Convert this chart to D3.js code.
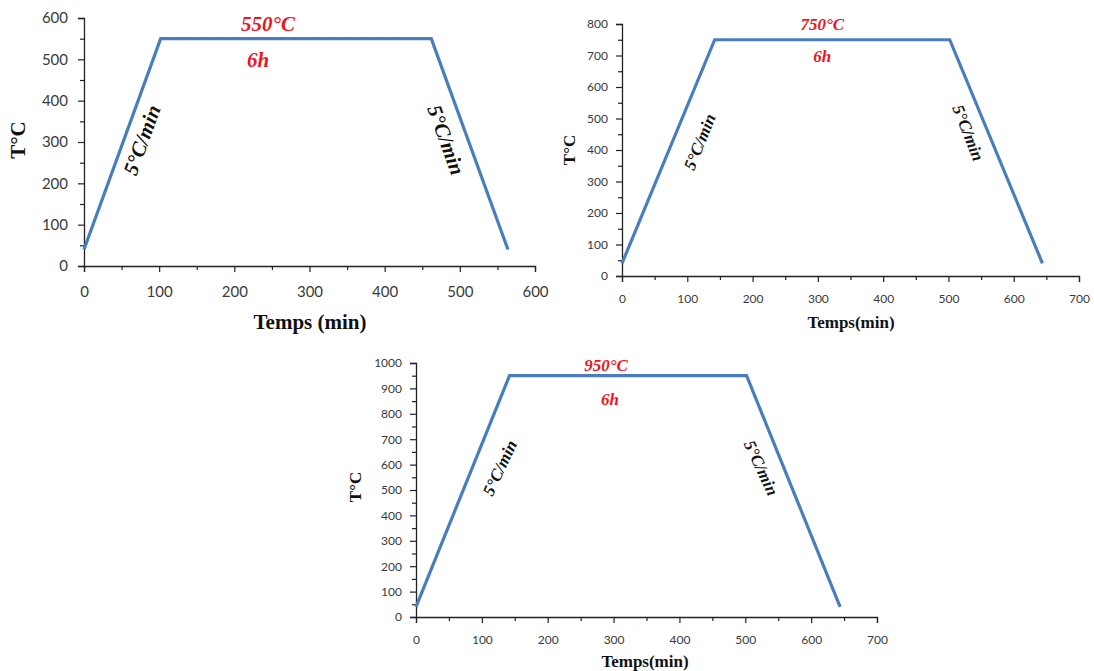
<!DOCTYPE html>
<html><head><meta charset="utf-8">
<script src="https://cdn.jsdelivr.net/npm/d3@7"></script>
<style>body{margin:0;background:#fff;} svg{display:block;}</style>
</head><body>
<svg id="c" width="1094" height="671"></svg>
<script>
// ---- data ----
const chart1Time = [0, 102, 462, 564];
const chart1Temp = [40, 550, 550, 40];
const chart1XTicks = [0, 100, 200, 300, 400, 500, 600];
const chart1YTicks = [0, 100, 200, 300, 400, 500, 600];
const chart1Labels = ["550°C", "6h", "5°C/min", "5°C/min"];

const chart2Time = [0, 142, 502, 644];
const chart2Temp = [40, 750, 750, 40];
const chart2XTicks = [0, 100, 200, 300, 400, 500, 600, 700];
const chart2YTicks = [0, 100, 200, 300, 400, 500, 600, 700, 800];
const chart2Labels = ["750°C", "6h", "5°C/min", "5°C/min"];

const chart3Time = [0, 142, 502, 644];
const chart3Temp = [40, 950, 950, 40];
const chart3XTicks = [0, 100, 200, 300, 400, 500, 600, 700];
const chart3YTicks = [0, 100, 200, 300, 400, 500, 600, 700, 800, 900, 1000];
const chart3Labels = ["950°C", "6h", "5°C/min", "5°C/min"];

const xTitles = ["Temps (min)", "Temps(min)", "Temps(min)"];
const yTitle = "T°C";

// ---- layout ----
const svg = d3.select("#c");
const serif = "'Liberation Serif', 'Times New Roman', serif";
const sans = "Lato, 'Open Sans', sans-serif";

function drawChart(o) {
  const x = d3.scaleLinear().domain([0, d3.max(o.xTicks)]).range([o.x0, o.x1]);
  const y = d3.scaleLinear().domain([0, d3.max(o.yTicks)]).range([o.y0, o.y1]);
  const g = svg.append("g");
  const step = o.xTicks[1] - o.xTicks[0];
  const ystep = o.yTicks[1] - o.yTicks[0];
  const xMinor = d3.range(step / 2, d3.max(o.xTicks), step);
  const yMinor = d3.range(ystep / 2, d3.max(o.yTicks), ystep);
  const fmt = d3.format("d");

  const gxm = g.append("g").attr("transform", `translate(0,${o.y0})`)
    .call(d3.axisBottom(x).tickValues(xMinor).tickSize(4).tickFormat(""));
  const gym = g.append("g").attr("transform", `translate(${o.x0},0)`)
    .call(d3.axisLeft(y).tickValues(yMinor).tickSize(4).tickFormat(""));
  const gx = g.append("g").attr("transform", `translate(0,${o.y0})`)
    .call(d3.axisBottom(x).tickValues(o.xTicks).tickFormat(fmt).tickSize(6).tickPadding(o.xPad).tickSizeOuter(6));
  const gy = g.append("g").attr("transform", `translate(${o.x0},0)`)
    .call(d3.axisLeft(y).tickValues(o.yTicks).tickFormat(fmt).tickSize(6).tickPadding(o.yPad).tickSizeOuter(6));
  [gxm, gym, gx, gy].forEach(a => {
    a.selectAll("path").attr("stroke", "#222").attr("stroke-width", 1.3);
    a.selectAll("line").attr("stroke", "#222").attr("stroke-width", 1.2);
  });
  gxm.select("path").remove(); gym.select("path").remove();
  [gx, gy].forEach(a => a.selectAll("text")
    .attr("font-family", sans).attr("font-size", o.tickFs).attr("fill", "#3a3a3a"));

  const pts = o.time.map((t, i) => [t, o.temp[i]]);
  g.append("path").datum(pts)
    .attr("d", d3.line().x(d => x(d[0])).y(d => y(d[1])))
    .attr("fill", "none").attr("stroke", "#4a7ebb").attr("stroke-width", 3.2)
    .attr("stroke-linejoin", "miter");

  g.append("text").attr("x", o.xt[0]).attr("y", o.xt[1]).attr("text-anchor", "middle")
    .attr("font-family", serif).attr("font-weight", "bold").attr("font-size", o.titleFs)
    .attr("fill", "#111").text(o.xTitle);
  g.append("text").attr("transform", `translate(${o.yt[0]},${o.yt[1]}) rotate(-90)`)
    .attr("text-anchor", "middle").attr("font-family", serif).attr("font-weight", "bold")
    .attr("font-size", o.titleFs).attr("fill", "#111").text(yTitle);

  const ann = (txt, px, py, rot, col, fs) => g.append("text")
    .attr("transform", `translate(${px},${py}) rotate(${rot})`)
    .attr("text-anchor", "middle").attr("dominant-baseline", "central")
    .attr("font-family", serif).attr("font-weight", "bold").attr("font-style", "italic")
    .attr("font-size", fs).attr("fill", col).text(txt);
  const mid = (o.time[1] + o.time[2]) / 2;
  ann(o.labels[0], x(mid) + o.dTop[0], y(o.temp[1]) + o.dTop[1], 0, "#f0141e", o.annFs);
  ann(o.labels[1], x(mid) + o.dH[0], y(o.temp[1]) + o.dH[1], 0, "#f0141e", o.annFs);
  ann(o.labels[2], o.left[0], o.left[1], o.left[2], "#111", o.annFs);
  ann(o.labels[3], o.right[0], o.right[1], o.right[2], "#111", o.annFs);
}

drawChart({time: chart1Time, temp: chart1Temp, xTicks: chart1XTicks, yTicks: chart1YTicks,
  labels: chart1Labels, xTitle: xTitles[0],
  x0: 84, x1: 535, y0: 266, y1: 18, xPad: 14, yPad: 10, tickFs: 15, titleFs: 21, annFs: 21,
  xt: [310, 329], yt: [25, 140], dTop: [-28, -15], dH: [-38, 21],
  left: [142, 140, -70], right: [446, 140, 70]});

drawChart({time: chart2Time, temp: chart2Temp, xTicks: chart2XTicks, yTicks: chart2YTicks,
  labels: chart2Labels, xTitle: xTitles[1],
  x0: 622, x1: 1079, y0: 276, y1: 24, xPad: 12, yPad: 8, tickFs: 12, titleFs: 17, annFs: 17,
  xt: [851, 328], yt: [575, 150], dTop: [-10, -15], dH: [-10, 17],
  left: [700, 142, -68], right: [968, 133, 68]});

drawChart({time: chart3Time, temp: chart3Temp, xTicks: chart3XTicks, yTicks: chart3YTicks,
  labels: chart3Labels, xTitle: xTitles[2],
  x0: 416, x1: 877, y0: 617, y1: 363, xPad: 12, yPad: 8, tickFs: 12, titleFs: 17, annFs: 17,
  xt: [645, 667], yt: [361, 487], dTop: [-22, -10], dH: [-18, 24],
  left: [500, 468, -65], right: [761, 468, 65]});
</script>
</body></html>
